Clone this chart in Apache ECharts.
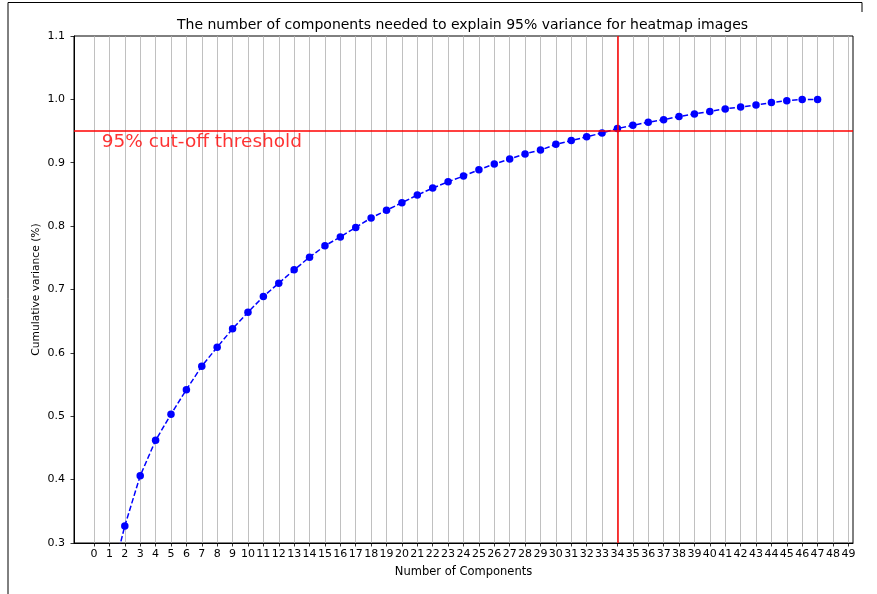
<!DOCTYPE html>
<html>
<head>
<meta charset="utf-8">
<script src="https://cdn.jsdelivr.net/npm/echarts@6/dist/echarts.min.js"></script>
<style>html,body{margin:0;padding:0;background:#fff;}#c{width:877px;height:594px;}</style>
</head>
<body>
<div id="c"></div>
<script>
const components = [1,2,3,4,5,6,7,8,9,10,11,12,13,14,15,16,17,18,19,20,21,22,23,24,25,26,27,28,29,30,31,32,33,34,35,36,37,38,39,40,41,42,43,44,45,46,47];
const cumulativeVariance = [0.23,0.327,0.406,0.462,0.503,0.542,0.579,0.609,0.638,0.664,0.689,0.710,0.731,0.751,0.769,0.783,0.798,0.813,0.825,0.837,0.849,0.860,0.870,0.879,0.889,0.898,0.906,0.914,0.920,0.929,0.935,0.941,0.947,0.954,0.959,0.964,0.968,0.973,0.977,0.981,0.985,0.988,0.991,0.995,0.998,1.000,1.000];
const xTicks = [0,1,2,3,4,5,6,7,8,9,10,11,12,13,14,15,16,17,18,19,20,21,22,23,24,25,26,27,28,29,30,31,32,33,34,35,36,37,38,39,40,41,42,43,44,45,46,47,48,49];
const yTicks = [0.3,0.4,0.5,0.6,0.7,0.8,0.9,1.0,1.1];
const thresholdValue = 0.95;
const thresholdComponent = 34;
const thresholdLabel = '95% cut-off threshold';
const thresholdLabelPos = [0.5, 0.917];
const titleText = 'The number of components needed to explain 95% variance for heatmap images';
const xName = 'Number of Components';
const yName = 'Cumulative variance (%)';

const chart = echarts.init(document.getElementById('c'), null, {renderer: 'canvas'});
const font = 'DejaVu Sans';
chart.setOption({
  animation: false,
  backgroundColor: '#fff',
  textStyle: {fontFamily: font},
  title: {
    text: titleText, left: 172, top: 13,
    textStyle: {fontFamily: font, fontSize: 14, fontWeight: 'normal', color: '#000'}
  },
  grid: {left: 74, right: 24, top: 36, bottom: 51, show: true, borderColor: '#000', borderWidth: 1, backgroundColor: 'transparent'},
  xAxis: {
    type: 'value', min: -1.3, max: 49.3,
    name: xName, nameLocation: 'middle', nameGap: 23, nameMoveOverlap: false,
    nameTextStyle: {fontFamily: font, fontSize: 11.5, color: '#000'},
    axisLine: {show: true, onZero: false, lineStyle: {color: '#000', width: 1}},
    axisTick: {show: true, length: 3.5, customValues: xTicks, lineStyle: {color: '#000', width: 0.8}},
    axisLabel: {customValues: xTicks, fontFamily: font, fontSize: 11, color: '#000', margin: 6, showMinLabel: true, showMaxLabel: true, hideOverlap: false},
    splitLine: {show: true, lineStyle: {color: '#b0b0b0', width: 0.8}}
  },
  yAxis: {
    type: 'value', min: 0.3, max: 1.1, interval: 0.1,
    name: yName, nameLocation: 'middle', nameGap: 32, nameRotate: 90, nameMoveOverlap: false,
    nameTextStyle: {fontFamily: font, fontSize: 10.7, color: '#000'},
    axisLine: {show: true, onZero: false, lineStyle: {color: '#000', width: 1}},
    axisTick: {show: true, length: 3.5, customValues: yTicks, lineStyle: {color: '#000', width: 0.8}},
    axisLabel: {customValues: yTicks, fontFamily: font, fontSize: 11, color: '#000', margin: 9, formatter: v => v.toFixed(1)},
    splitLine: {show: false}
  },
  graphic: [
    {type: 'polyline', shape: {points: [[8, 594], [8, 2.5], [862, 2.5], [862, 12]]}, style: {stroke: '#000', lineWidth: 1, fill: null}, silent: true}
  ],
  series: [
    {
      type: 'line',
      data: components.map((c, i) => [c, cumulativeVariance[i]]),
      clip: true,
      symbol: 'circle', symbolSize: 7.5,
      itemStyle: {color: '#0000ff'},
      lineStyle: {color: '#0000ff', width: 1.5, type: [5.5, 2.4]},
      z: 2,
      markLine: {
        silent: true, symbol: ['none', 'none'], label: {show: false},
        lineStyle: {color: '#ff0000', width: 1.5, type: 'solid', opacity: 1},
        emphasis: {disabled: true},
        data: [{yAxis: thresholdValue}, {xAxis: thresholdComponent}],
        z: 5
      }
    },
    {
      type: 'scatter',
      data: [thresholdLabelPos],
      symbolSize: 0,
      silent: true,
      label: {
        show: true, position: [0, 0], formatter: thresholdLabel,
        align: 'left', verticalAlign: 'bottom',
        fontFamily: font, fontSize: 18.5, color: '#ff0000'
      },
      z: 6
    }
  ]
});
</script>
</body>
</html>
